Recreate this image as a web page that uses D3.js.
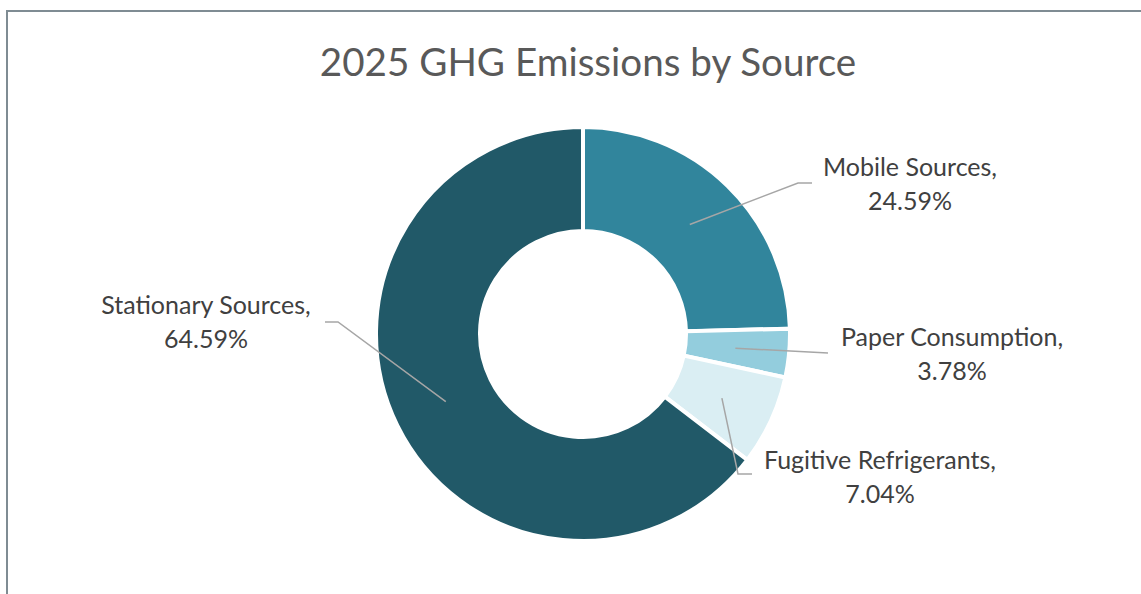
<!DOCTYPE html>
<html>
<head>
<meta charset="utf-8">
<script src="https://cdn.jsdelivr.net/npm/d3@7"></script>
<style>
  body { margin: 0; background: #fff; }
  svg { display: block; }
</style>
</head>
<body>
<div id="chart"></div>
<script>
// data
var categories = ["Mobile Sources", "Paper Consumption", "Fugitive Refrigerants", "Stationary Sources"];
var shares = [24.59, 3.78, 7.04, 64.59];
var colors = ["#31859C", "#93CDDD", "#DAEEF3", "#215968"];
var title = "2025 GHG Emissions by Source";

// label layout (where the text block sits, and where the leader line bends)
var labelPos = [
  {x: 910, y: 168, bendX: 798, bendY: 183, endX: 812, endY: 183},
  {x: 952, y: 338, bendX: 828, bendY: 353, endX: 828, endY: 353},
  {x: 880, y: 461, bendX: 738, bendY: 474, endX: 752, endY: 474},
  {x: 206, y: 306, bendX: 338, bendY: 322, endX: 325, endY: 322}
];

var W = 1141, H = 594;
var cx = 583, cy = 334;
var outerR = 207, innerR = 103;

var svg = d3.select("#chart").append("svg")
  .attr("width", W).attr("height", H);

// chart frame
svg.append("rect")
  .attr("x", 7).attr("y", 11)
  .attr("width", W + 20).attr("height", H + 20)
  .attr("fill", "none")
  .attr("stroke", "#7f8c93")
  .attr("stroke-width", 2);

svg.append("text")
  .attr("x", 588).attr("y", 76)
  .attr("text-anchor", "middle")
  .attr("fill", "#595959")
  .style("font-family", "Lato, 'Open Sans', sans-serif")
  .style("font-size", "38.6px")
  .text(title);

var data = categories.map(function(c, i){
  return {name: c, value: shares[i], color: colors[i], pos: labelPos[i]};
});

var pie = d3.pie().sort(null).value(function(d){ return d.value; });
var arc = d3.arc().innerRadius(innerR).outerRadius(outerR);
var mid = d3.arc().innerRadius((innerR + outerR) / 2 - 2).outerRadius((innerR + outerR) / 2 - 2);

var g = svg.append("g").attr("transform", "translate(" + cx + "," + cy + ")");

var arcs = pie(data);

g.selectAll("path.slice")
  .data(arcs)
  .enter().append("path")
  .attr("class", "slice")
  .attr("d", arc)
  .attr("fill", function(d){ return d.data.color; })
  .attr("stroke", "#fff")
  .attr("stroke-width", 4);

// leader lines
svg.selectAll("polyline.leader")
  .data(arcs)
  .enter().append("polyline")
  .attr("class", "leader")
  .attr("points", function(d){
    var c = mid.centroid(d);
    var p = d.data.pos;
    return [[cx + c[0], cy + c[1]], [p.bendX, p.bendY], [p.endX, p.endY]].join(" ");
  })
  .attr("fill", "none")
  .attr("stroke", "#a6a6a6")
  .attr("stroke-width", 1.5);

var labels = svg.selectAll("text.lbl")
  .data(arcs)
  .enter().append("text")
  .attr("class", "lbl")
  .attr("text-anchor", "middle")
  .attr("fill", "#404040")
  .style("font-family", "Lato, 'Open Sans', sans-serif")
  .style("font-size", "25px");

labels.append("tspan")
  .attr("x", function(d){ return d.data.pos.x; })
  .attr("y", function(d){ return d.data.pos.y + 8; })
  .text(function(d){ return d.data.name + ","; });

labels.append("tspan")
  .attr("x", function(d){ return d.data.pos.x; })
  .attr("y", function(d){ return d.data.pos.y + 42; })
  .text(function(d){ return d.data.value.toFixed(2) + "%"; });
</script>
</body>
</html>
